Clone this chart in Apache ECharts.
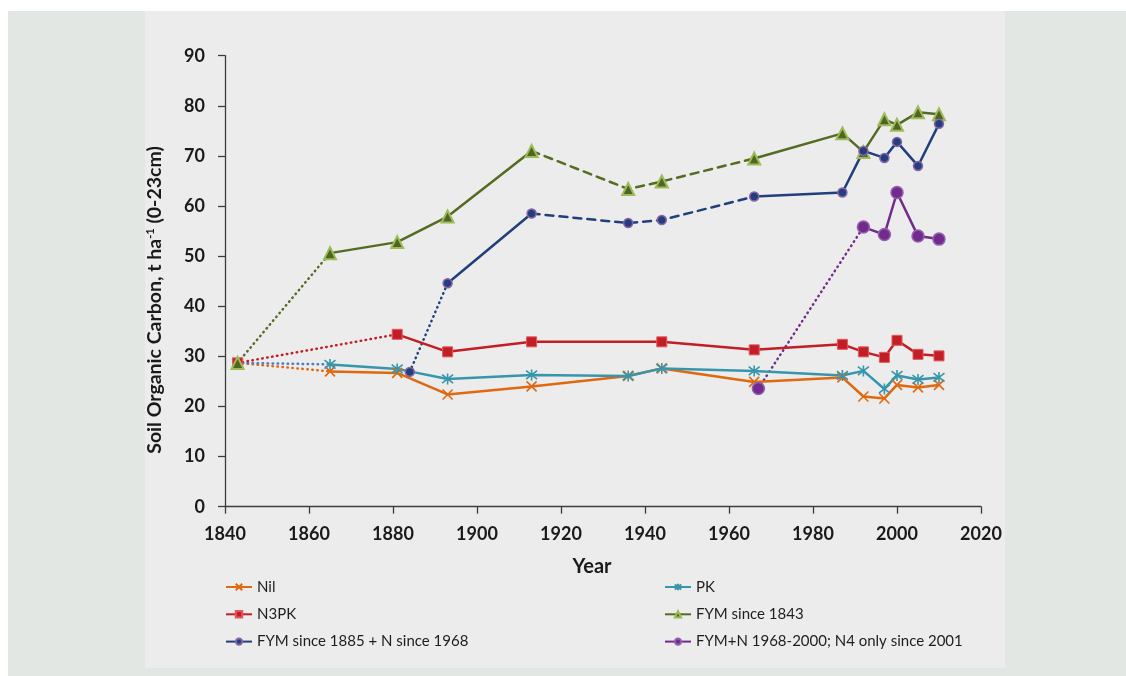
<!DOCTYPE html>
<html>
<head>
<meta charset="utf-8">
<script src="https://cdn.jsdelivr.net/npm/echarts@6/dist/echarts.min.js"></script>
<style>
  html, body { margin: 0; padding: 0; background: #ffffff; }
  #chart { width: 1126px; height: 676px; }
</style>
</head>
<body>
<div id="chart"></div>
<script>
// Soil organic carbon (t/ha, 0-23 cm) by treatment and sampling year
const nilYears = [1843, 1865, 1881, 1893, 1913, 1936, 1944, 1966, 1987, 1992, 1997, 2000, 2005, 2010];
const nilSOC   = [28.7, 27.0, 26.7, 22.4, 24.0, 26.1, 27.6, 24.9, 25.8, 22.0, 21.6, 24.3, 23.8, 24.3];

const pkYears = [1843, 1865, 1881, 1893, 1913, 1936, 1944, 1966, 1987, 1992, 1997, 2000, 2005, 2010];
const pkSOC   = [28.7, 28.4, 27.5, 25.5, 26.3, 26.1, 27.6, 27.1, 26.2, 27.1, 23.5, 26.2, 25.4, 25.8];

const n3pkYears = [1843, 1881, 1893, 1913, 1944, 1966, 1987, 1992, 1997, 2000, 2005, 2010];
const n3pkSOC   = [28.7, 34.4, 30.9, 32.9, 32.9, 31.3, 32.4, 30.9, 29.8, 33.2, 30.4, 30.1];

const fym1843Years = [1843, 1865, 1881, 1893, 1913, 1936, 1944, 1966, 1987, 1992, 1997, 2000, 2005, 2010];
const fym1843SOC   = [28.7, 50.6, 52.8, 57.9, 71.0, 63.4, 64.9, 69.5, 74.5, 70.8, 77.3, 76.2, 78.7, 78.3];

const fym1885Years = [1884, 1893, 1913, 1936, 1944, 1966, 1987, 1992, 1997, 2000, 2005, 2010];
const fym1885SOC   = [26.9, 44.6, 58.5, 56.6, 57.2, 61.9, 62.7, 71.0, 69.6, 72.8, 68.0, 76.4];

const fymNYears = [1967, 1992, 1997, 2000, 2005, 2010];
const fymNSOC   = [23.6, 55.8, 54.3, 62.7, 54.0, 53.4];

const legendLeft  = ['Nil', 'N3PK', 'FYM since 1885 + N since 1968'];
const legendRight = ['PK', 'FYM since 1843', 'FYM+N 1968-2000; N4 only since 2001'];

const yAxisTitle = 'Soil Organic Carbon, t ha';
const yAxisUnitSup = '-1';
const yAxisTitleTail = ' (0-23cm)';
const xAxisTitle = 'Year';

// line patterns for the interpolated stretches
const DOTTED = [0.5, 4.5];
const DASHED = [8, 6];

const treatments = [
  { name: 'Nil', years: nilYears, values: nilSOC, color: '#e0680f',
    symbol: 'path://M0,0L10,10M10,0L0,10', size: 10,
    item: { color: '#e0680f', borderColor: '#e0680f', borderWidth: 1.6 },
    breaks: [{ from: 1843, to: 1865, type: DOTTED }] },
  { name: 'PK', years: pkYears, values: pkSOC, color: '#3796ab',
    symbol: 'path://M0,0L10,10M10,0L0,10M5,-1.5L5,11.5', size: 11,
    item: { color: '#3796ab', borderColor: '#3796ab', borderWidth: 1.6 },
    breaks: [{ from: 1843, to: 1865, type: DOTTED, color: '#4a80c4' }] },
  { name: 'N3PK', years: n3pkYears, values: n3pkSOC, color: '#c31d25',
    symbol: 'rect', size: 10,
    item: { color: '#c31d25', borderColor: '#e2585c', borderWidth: 1 },
    breaks: [{ from: 1843, to: 1881, type: DOTTED }] },
  { name: 'FYM since 1843', years: fym1843Years, values: fym1843SOC, color: '#556b22',
    symbol: 'triangle', size: 12,
    item: { color: '#4f6522', borderColor: '#9dbb58', borderWidth: 2 },
    breaks: [{ from: 1843, to: 1865, type: DOTTED }, { from: 1913, to: 1966, type: DASHED }] },
  { name: 'FYM since 1885 + N since 1968', years: fym1885Years, values: fym1885SOC, color: '#203f7c',
    symbol: 'circle', size: 9,
    item: { color: '#203f7c', borderColor: '#8a63a8', borderWidth: 1.5 },
    breaks: [{ from: 1884, to: 1893, type: DOTTED }, { from: 1913, to: 1966, type: DASHED }] },
  { name: 'FYM+N 1968-2000; N4 only since 2001', years: fymNYears, values: fymNSOC, color: '#722b8c',
    symbol: 'circle', size: 12,
    item: { color: '#722b8c', borderColor: '#9560b0', borderWidth: 1.5 },
    breaks: [{ from: 1967, to: 1992, type: DOTTED }] }
];

function inBreak(t, a, b) {
  return t.breaks.find(br => a >= br.from && b <= br.to);
}

const series = [];
treatments.forEach(t => {
  // solid stretches plus markers; gaps where the record is interpolated
  const data = [];
  for (let i = 0; i < t.years.length; i++) {
    data.push([t.years[i], t.values[i]]);
    if (i < t.years.length - 1 && inBreak(t, t.years[i], t.years[i + 1])) {
      data.push([(t.years[i] + t.years[i + 1]) / 2, '-']);
    }
  }
  t.breaks.forEach((br, k) => {
    const seg = [];
    t.years.forEach((y, i) => { if (y >= br.from && y <= br.to) seg.push([y, t.values[i]]); });
    series.push({
      name: t.name + ' (interpolated ' + k + ')',
      type: 'line', data: seg, symbol: 'none', silent: true,
      lineStyle: { color: br.color || t.color, width: 2.5, type: br.type, cap: 'round' },
      z: 2
    });
  });
  series.push({
    name: t.name, type: 'line', data: data,
    symbol: t.symbol, symbolSize: t.size, showSymbol: true,
    lineStyle: { color: t.color, width: 2.5 },
    itemStyle: t.item,
    connectNulls: false,
    z: 3
  });
});

const legendBase = {
  orient: 'vertical', itemWidth: 26, itemHeight: 8, itemGap: 9.3, padding: 0,
  textStyle: { fontFamily: 'Lato', fontSize: 15, color: '#1e1e1e', lineHeight: 18 },
  selectedMode: false
};

const chart = echarts.init(document.getElementById('chart'));
chart.setOption({
  animation: false,
  backgroundColor: '#ffffff',
  graphic: [
    { type: 'rect', shape: { x: 8, y: 11, width: 1118, height: 665 }, style: { fill: '#e3e7e4' }, z: -10 },
    { type: 'rect', shape: { x: 145, y: 11, width: 860, height: 657 }, style: { fill: '#ebeceb' }, z: -9 },
    { type: 'text', x: 155, y: 300, rotation: Math.PI / 2,
      style: {
        text: '{a|' + yAxisTitle + '}{s|' + yAxisUnitSup + '}{a|' + yAxisTitleTail + '}',
        align: 'center', verticalAlign: 'middle',
        rich: {
          a: { fontFamily: 'Lato', fontWeight: 'bold', fontSize: 19.5, fill: '#1a1a1a', lineHeight: 24 },
          s: { fontFamily: 'Lato', fontWeight: 'bold', fontSize: 11, fill: '#1a1a1a', lineHeight: 24, padding: [0, 0, 10, 0] }
        }
      }, z: 10 },
    { type: 'text', x: 592, y: 567,
      style: { text: xAxisTitle, align: 'center', verticalAlign: 'middle',
        fontFamily: 'Lato', fontWeight: 'bold', fontSize: 20, fill: '#1a1a1a' }, z: 10 }
  ],
  grid: { left: 225, right: 145, top: 55.7, bottom: 169.3 },
  xAxis: {
    type: 'value', min: 1840, max: 2020, interval: 20,
    axisLine: { show: true, lineStyle: { color: '#3c3c3c', width: 1.3 } },
    axisTick: { show: true, length: 7, lineStyle: { color: '#3c3c3c', width: 1.3 } },
    axisLabel: { margin: 18, fontFamily: 'Lato', fontWeight: 'bold', fontSize: 18, color: '#1a1a1a',
      formatter: v => String(v) },
    splitLine: { show: false }
  },
  yAxis: {
    type: 'value', min: 0, max: 90, interval: 10,
    axisLine: { show: true, lineStyle: { color: '#3c3c3c', width: 1.3 } },
    axisTick: { show: true, length: 7, lineStyle: { color: '#3c3c3c', width: 1.3 } },
    axisLabel: { margin: 20, fontFamily: 'Lato', fontWeight: 'bold', fontSize: 18, color: '#1a1a1a' },
    splitLine: { show: false }
  },
  legend: [
    Object.assign({}, legendBase, { left: 225, top: 578, data: legendLeft }),
    Object.assign({}, legendBase, { left: 664, top: 578, data: legendRight })
  ],
  series: series
});
</script>
</body>
</html>
